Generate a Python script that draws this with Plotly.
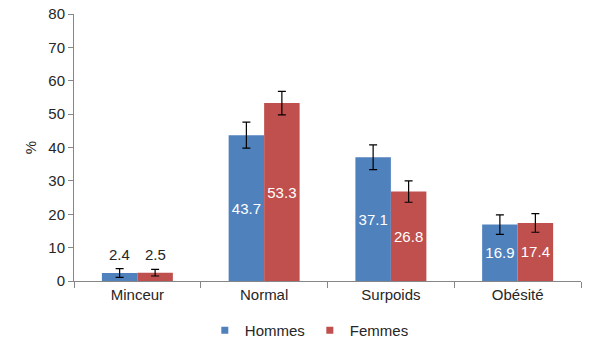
import plotly.graph_objects as go

categories = ["Minceur", "Normal", "Surpoids", "Obésité"]
hommes = [2.4, 43.7, 37.1, 16.9]
femmes = [2.5, 53.3, 26.8, 17.4]
hommes_err = [1.3, 3.9, 3.7, 2.9]
femmes_err = [1.0, 3.5, 3.2, 2.8]
y_ticks = [0, 10, 20, 30, 40, 50, 60, 70, 80]

BLUE = "#4F81BD"
RED = "#C0504D"
AXIS = "#868686"
TEXT = "#262626"
FONT = "Liberation Sans, Arial, sans-serif"

# small bars get their value written above instead of inside
SMALL = 5


def inside_text(vals):
    return [f"{v:.1f}" if v >= SMALL else "" for v in vals]


series = [
    ("Hommes", hommes, hommes_err, BLUE),
    ("Femmes", femmes, femmes_err, RED),
]

fig = go.Figure()
for name, vals, errs, color in series:
    fig.add_trace(go.Bar(
        name=name, x=categories, y=vals, marker_color=color,
        marker_line_width=0, showlegend=False,
        text=inside_text(vals), textposition="inside", insidetextanchor="middle",
        textfont=dict(color="white", size=15, family=FONT),
        textangle=0,
        error_y=dict(type="data", array=errs, visible=True,
                     color="black", thickness=1.2, width=4),
    ))

# legend entries with small square keys
for name, vals, errs, color in series:
    fig.add_trace(go.Scatter(
        name=name, x=[None], y=[None], mode="markers",
        marker=dict(symbol="square", size=7, color=color),
    ))

# labels for small bars, placed above the error bars
for i, (name, vals, errs, color) in enumerate(series):
    for j, (v, e) in enumerate(zip(vals, errs)):
        if v < SMALL:
            fig.add_annotation(
                x=categories[j], y=v + e, yref="y", showarrow=False,
                text=f"{v:.1f}", yanchor="bottom", yshift=4,
                xshift=-18 if i == 0 else 18,
                font=dict(color=TEXT, size=15, family=FONT),
            )

fig.update_layout(
    width=600, height=342,
    margin=dict(l=74, r=19, t=14, b=61, autoexpand=False),
    paper_bgcolor="white", plot_bgcolor="white",
    barmode="group", bargap=0.44, bargroupgap=0,
    font=dict(family=FONT, size=15, color=TEXT),
    showlegend=True,
    legend=dict(orientation="h", x=0.258, xanchor="left", y=-0.185,
                yanchor="middle", font=dict(size=15, family=FONT, color=TEXT),
                itemwidth=30, traceorder="normal", tracegroupgap=0),
    uniformtext=dict(minsize=8, mode="show"),
)
fig.update_xaxes(
    showline=True, linecolor=AXIS, linewidth=1,
    ticks="outside", tickson="boundaries", ticklen=6, tickcolor=AXIS,
    tickfont=dict(size=15, family=FONT, color=TEXT),
    showgrid=False, automargin=False,
)
fig.update_yaxes(
    range=[0, 80], tickvals=y_ticks, showline=True, linecolor=AXIS,
    linewidth=1, ticks="outside", ticklen=5, tickcolor=AXIS,
    tickfont=dict(size=15, family=FONT, color=TEXT), showgrid=False,
    zeroline=False, automargin=False,
    title=dict(text="%", font=dict(size=15, family=FONT, color=TEXT),
               standoff=8),
)

fig.write_html("out.html")
